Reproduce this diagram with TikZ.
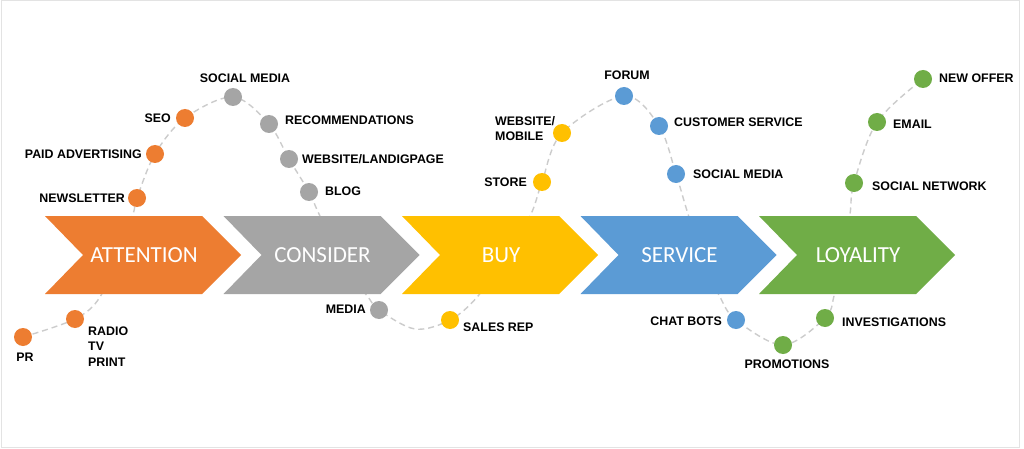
\documentclass[tikz,border=0pt]{standalone}
\usepackage{fontspec}
\setmainfont{Liberation Sans}
\newfontfamily\chevfont{Carlito}
\definecolor{corange}{HTML}{ED7D31}
\definecolor{cgray}{HTML}{A5A5A5}
\definecolor{cyellow}{HTML}{FFC000}
\definecolor{cblue}{HTML}{5B9BD5}
\definecolor{cgreen}{HTML}{70AD47}
\definecolor{trailgray}{HTML}{CCCCCC}
\definecolor{framegray}{HTML}{E3E3E3}
\begin{document}
\begin{tikzpicture}[x=1pt,y=-1pt,
  lbl/.style={font=\bfseries\fontsize{12.4}{15.5}\selectfont, text=black, inner sep=0pt},
  dot/.style={circle, minimum size=18pt, inner sep=0pt, fill=#1},
  chevtext/.style={font=\chevfont\fontsize{23}{26}\selectfont, text=white, inner sep=0pt},
  trail/.style={draw=trailgray, dash pattern=on 6pt off 4pt, line width=1.4pt}]
\useasboundingbox (0,0) rectangle (1024,449);
\fill[white] (0,0) rectangle (1024,449);
\draw[framegray, line width=1pt] (1,1) rectangle (1019,447.5);
% curve coordinates
\coordinate (pr) at (23,337);
\coordinate (radio) at (75,319);
\coordinate (h1) at (100,297);
\coordinate (h2) at (119,250);
\coordinate (h3) at (133,214);
\coordinate (newsletter) at (137,198);
\coordinate (paid) at (155,154);
\coordinate (seo) at (185,118);
\coordinate (socmed) at (233,97);
\coordinate (recom) at (269,124);
\coordinate (webl) at (289,159);
\coordinate (blog) at (309,192);
\coordinate (h4) at (319,214);
\coordinate (h5) at (344,265);
\coordinate (h6) at (368,297);
\coordinate (media) at (379,310);
\coordinate (h7) at (415,329);
\coordinate (sales) at (450,320);
\coordinate (h8) at (478,296);
\coordinate (h9) at (509,250);
\coordinate (h10) at (531,214);
\coordinate (store) at (542,182);
\coordinate (webm) at (562,133);
\coordinate (forum) at (624,96);
\coordinate (cust) at (659,126);
\coordinate (socmedb) at (676,174);
\coordinate (h11) at (688,214);
\coordinate (h12) at (704,262);
\coordinate (h13) at (720,297);
\coordinate (chat) at (736,320);
\coordinate (promo) at (783,345);
\coordinate (invest) at (825,318);
\coordinate (h14) at (834,296);
\coordinate (h15) at (843,250);
\coordinate (h16) at (850,214);
\coordinate (socnet) at (854,183);
\coordinate (email) at (877,122);
\coordinate (offer) at (923,79);
\draw[trail] plot[smooth, tension=0.55] coordinates {(pr) (radio) (h1) (h2) (h3) (newsletter) (paid) (seo) (socmed) (recom) (webl) (blog) (h4) (h5) (h6) (media) (h7) (sales) (h8) (h9) (h10) (store) (webm) (forum) (cust) (socmedb) (h11) (h12) (h13) (chat) (promo) (invest) (h14) (h15) (h16) (socnet) (email) (offer)};
% chevrons
\foreach \i/\c/\t/\n in {0/corange/ATTENTION/attention, 1/cgray/CONSIDER/consider, 2/cyellow/BUY/buy, 3/cblue/SERVICE/service, 4/cgreen/LOYALITY/loyality}{
  \pgfmathsetmacro{\L}{45+178.5*\i}
  \fill[\c] (\L,216) -- (\L+157,216) -- (\L+196,255) -- (\L+157,294) -- (\L,294) -- (\L+38,255) -- cycle;
  \node[chevtext] (\n) at (\L+99,255) {\t};
}
% dots
\node[dot=corange] (d-pr) at (pr) {};
\node[dot=corange] (d-radio) at (radio) {};
\node[dot=corange] (d-newsletter) at (newsletter) {};
\node[dot=corange] (d-paid) at (paid) {};
\node[dot=corange] (d-seo) at (seo) {};
\node[dot=cgray] (d-socmed) at (socmed) {};
\node[dot=cgray] (d-recom) at (recom) {};
\node[dot=cgray] (d-webl) at (webl) {};
\node[dot=cgray] (d-blog) at (blog) {};
\node[dot=cgray] (d-media) at (media) {};
\node[dot=cyellow] (d-sales) at (sales) {};
\node[dot=cyellow] (d-store) at (store) {};
\node[dot=cyellow] (d-webm) at (webm) {};
\node[dot=cblue] (d-forum) at (forum) {};
\node[dot=cblue] (d-cust) at (cust) {};
\node[dot=cblue] (d-socmedb) at (socmedb) {};
\node[dot=cblue] (d-chat) at (chat) {};
\node[dot=cgreen] (d-promo) at (promo) {};
\node[dot=cgreen] (d-invest) at (invest) {};
\node[dot=cgreen] (d-socnet) at (socnet) {};
\node[dot=cgreen] (d-email) at (email) {};
\node[dot=cgreen] (d-offer) at (offer) {};
% labels
\node[lbl] (l-pr) at (25,357) {PR};
\node[lbl, anchor=west, align=left] (l-radio) at (88,346.5) {RADIO\\TV\\PRINT};
\node[lbl, anchor=east] (l-newsletter) at (125,198) {NEWSLETTER};
\node[lbl, anchor=east] (l-paid) at (142,154) {PAID ADVERTISING};
\node[lbl, anchor=east] (l-seo) at (171,118) {SEO};
\node[lbl] (l-socmed) at (245,78) {SOCIAL MEDIA};
\node[lbl, anchor=west] (l-recom) at (285,120) {RECOMMENDATIONS};
\node[lbl, anchor=west] (l-webl) at (302,159) {WEBSITE/LANDIGPAGE};
\node[lbl, anchor=west] (l-blog) at (325,191) {BLOG};
\node[lbl, anchor=east] (l-media) at (366,309) {MEDIA};
\node[lbl, anchor=west] (l-sales) at (463,327) {SALES REP};
\node[lbl, anchor=east] (l-store) at (527,182) {STORE};
\node[lbl, anchor=west, align=left] (l-webm) at (495,128.5) {WEBSITE/\\MOBILE};
\node[lbl] (l-forum) at (627,75) {FORUM};
\node[lbl, anchor=west] (l-cust) at (674,122) {CUSTOMER SERVICE};
\node[lbl, anchor=west] (l-socmedb) at (693,174) {SOCIAL MEDIA};
\node[lbl, anchor=east] (l-chat) at (722,321) {CHAT BOTS};
\node[lbl] (l-promo) at (787,364) {PROMOTIONS};
\node[lbl, anchor=west] (l-invest) at (842,322) {INVESTIGATIONS};
\node[lbl, anchor=west] (l-socnet) at (872,186) {SOCIAL NETWORK};
\node[lbl, anchor=west] (l-email) at (893,124) {EMAIL};
\node[lbl, anchor=west] (l-offer) at (939,78) {NEW OFFER};
\end{tikzpicture}
\end{document}
